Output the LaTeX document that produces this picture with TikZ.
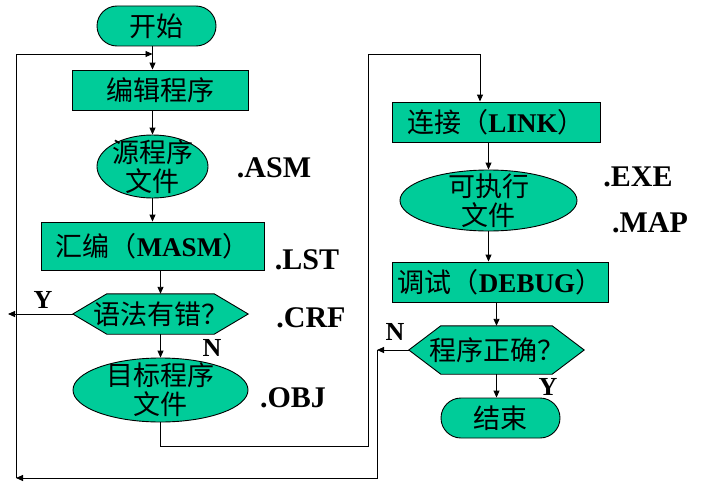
\documentclass[tikz,border=0pt]{standalone}
\usepackage{fontspec}
\setmainfont{Liberation Serif}
\newfontfamily\cjk{Noto Sans CJK SC}
\usetikzlibrary{arrows.meta,shapes.geometric,calc,backgrounds}
\definecolor{tealfill}{RGB}{0,204,153}
\newcommand\lat[1]{{\rmfamily\bfseries #1}}
\tikzset{
  cjkfont/.style={font=\cjk\fontsize{27}{29}\selectfont},
  box/.style={draw=black, fill=tealfill, line width=0.9pt, rectangle, minimum height=40pt, inner sep=0pt, cjkfont},
  term/.style={box, rounded corners=20pt},
  ell/.style={draw=black, fill=tealfill, line width=0.9pt, ellipse, inner sep=0pt},
  etext/.style={cjkfont, align=center, inner sep=0pt},
  dshape/.style={draw=none, rectangle, inner sep=0pt, minimum height=40pt},
  hexa/.style={draw=black, fill=tealfill, line width=0.9pt, line join=miter},
  ext/.style={font=\rmfamily\bfseries\fontsize{30}{32}\selectfont, inner sep=0pt},
  yn/.style={font=\rmfamily\bfseries\fontsize{26}{28}\selectfont, inner sep=0pt},
  arr/.style={-{Triangle[length=7pt,width=6pt]}, line width=0.9pt}
}
\begin{document}
\begin{tikzpicture}[x=1pt,y=-1pt]
\useasboundingbox (0,0) rectangle (711,487);
% left column
\node[term, minimum width=119pt] (start) at (156.5,26) {开始};
\node[box, minimum width=176pt] (edit) at (160,90) {编辑程序};
\node[ell, minimum width=111pt, minimum height=63pt,
      label={[etext]center:源程序\\文件}] (src) at (152.5,166.5) {};
\node[box, minimum width=223pt, minimum height=48pt] (asm) at (152.5,246) {汇编（\lat{MASM}）};
\node[dshape, minimum width=107pt, minimum height=40pt,
      label={[etext]center:语法有错？}] (d1) at (160.5,314) {};
\coordinate (d1w) at ($(d1.west)+(-34,0)$);
\coordinate (d1e) at ($(d1.east)+(34,0)$);
\node[ell, minimum width=175pt, minimum height=64pt,
      label={[etext]center:目标程序\\文件}] (obj) at (160.5,390) {};
% right column
\node[box, minimum width=208pt] (link) at (496,122) {连接（\lat{LINK}）};
\node[ell, minimum width=177pt, minimum height=61pt,
      label={[etext]center:可执行\\文件}] (exe) at (488.5,200.5) {};
\node[box, minimum width=216pt] (debug) at (500,282) {调试（\lat{DEBUG}）};
\node[dshape, minimum width=111pt, minimum height=48pt,
      label={[etext]center:程序正确？}] (d2) at (496.5,350) {};
\coordinate (d2w) at ($(d2.west)+(-32,0)$);
\coordinate (d2e) at ($(d2.east)+(32,0)$);
\node[term, minimum width=119pt] (stop) at (500.5,418) {结束};
% hexagons
\begin{scope}[on background layer]
\filldraw[hexa] (d1w) -- (d1.north west) -- (d1.north east) -- (d1e) -- (d1.south east) -- (d1.south west) -- cycle;
\filldraw[hexa] (d2w) -- (d2.north west) -- (d2.north east) -- (d2e) -- (d2.south east) -- (d2.south west) -- cycle;
\end{scope}
% extension labels
\node[ext] (tasm) at (274,168) {.ASM};
\node[ext] (tlst) at (307,260) {.LST};
\node[ext] (tcrf) at (311,318) {.CRF};
\node[ext] (tobj) at (293,398) {.OBJ};
\node[ext] (texe) at (638,177) {.EXE};
\node[ext] (tmap) at (650,223) {.MAP};
\node[yn] (ly1) at (43,300) {Y};
\node[yn] (ln1) at (212,348) {N};
\node[yn] (ln2) at (395,332) {N};
\node[yn] (ly2) at (548,387) {Y};
% coordinates
\coordinate (c1) at (368,446);
\coordinate (c2) at (368,54);
\coordinate (c3) at (480,54);
\coordinate (n1) at (377,350);
\coordinate (n2) at (377,478);
\coordinate (n3) at (16,478);
\coordinate (n4) at (16,54);
\coordinate (y1) at (8,316);
% connectors
\draw[arr] (start.south -| src) -- (edit.north -| src);
\draw[arr] (edit.south -| src) -- (src.north);
\draw[arr] (src.south) -- (asm.north);
\draw[arr] (asm.south -| d1) -- (d1.north);
\draw[arr] (d1.south) -- (obj.north);
\draw[arr] (obj.south) |- (c1) -- (c2) -- (c3) -- (c3 |- link.north);
\draw[arr] (link.south -| exe) -- (exe.north);
\draw[arr] (exe.south) -- (exe.south |- debug.north);
\draw[arr] (debug.south -| d2) -- (d2.north);
\draw[arr] (d2.south) -- (d2.south |- stop.north);
\draw[arr] (d2w) -- (n1);
\draw[arr] (n1) -- (n2) -- (n3);
\draw[arr] (n3) -- (n4) -- (n4 -| src);
\draw[arr] (d1w) -- (d1w -| y1);
\end{tikzpicture}
\end{document}
